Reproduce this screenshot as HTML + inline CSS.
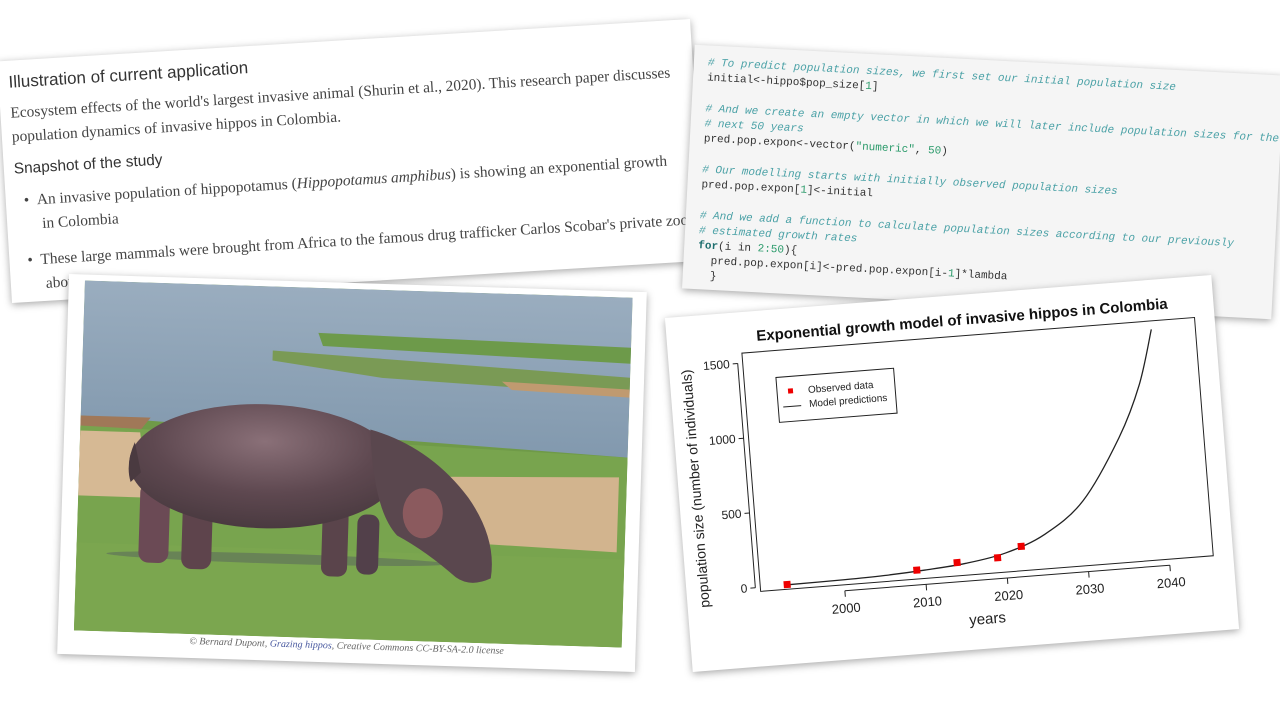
<!DOCTYPE html>
<html><head><meta charset="utf-8">
<style>
html,body{margin:0;padding:0;width:1280px;height:720px;overflow:hidden;background:#fff;}
.card{position:absolute;background:#fff;box-shadow:0 2px 8px rgba(0,0,0,0.35);}
#p1{left:4px;width:694px;top:40px;height:242px;transform:rotate(-3.5deg);font-family:"Liberation Serif",serif;color:#444;}
#p1 h3{position:absolute;left:10px;top:12px;margin:0;font:17px "Liberation Sans",sans-serif;color:#333;}
#p1 .t{position:absolute;left:10px;font-size:15.4px;white-space:nowrap;}
#p2{left:688px;width:590px;top:60px;height:244px;transform:rotate(3deg);background:#f5f5f5;font-family:"Liberation Mono",monospace;font-size:11px;color:#333;}
#p2 .l{position:absolute;left:14px;white-space:pre;}
.c{color:#4aa1a6;font-style:italic;}
.n{color:#2a9a6a;}
.k{color:#1f6f6f;font-weight:bold;}
#p3{left:63px;width:578px;top:283px;height:380px;transform:rotate(1.8deg);}
#p4{left:678px;width:548px;top:296px;height:355px;transform:rotate(-4.5deg);}
</style></head><body>

<div class="card" id="p1">
  <h3>Illustration of current application</h3>
  <div class="t" style="top:44px">Ecosystem effects of the world's largest invasive animal (Shurin et al., 2020). This research paper discusses</div>
  <div class="t" style="top:68px">population dynamics of invasive hippos in Colombia.</div>
  <div class="t" style="top:100px;font-family:'Liberation Sans',sans-serif;color:#333">Snapshot of the study</div>
  <div class="t" style="top:132px;left:18px">•&nbsp;&nbsp;An invasive population of hippopotamus (<i>Hippopotamus amphibus</i>) is showing an exponential growth</div>
  <div class="t" style="top:156px;left:35px">in Colombia</div>
  <div class="t" style="top:192px;left:18px">•&nbsp;&nbsp;These large mammals were brought from Africa to the famous drug trafficker Carlos Scobar's private zoo</div>
  <div class="t" style="top:216px;left:35px">about</div>
</div>

<div class="card" id="p2">
  <div class="l c" style="top:12px"># To predict population sizes, we first set our initial population size</div>
  <div class="l" style="top:27px">initial&lt;-hippo$pop_size[<span class="n">1</span>]</div>
  <div class="l c" style="top:58px"># And we create an empty vector in which we will later include population sizes for the</div>
  <div class="l c" style="top:73px"># next 50 years</div>
  <div class="l" style="top:88px">pred.pop.expon&lt;-vector(<span class="n">"numeric"</span>, <span class="n">50</span>)</div>
  <div class="l c" style="top:119px"># Our modelling starts with initially observed population sizes</div>
  <div class="l" style="top:134px">pred.pop.expon[<span class="n">1</span>]&lt;-initial</div>
  <div class="l c" style="top:165px"># And we add a function to calculate population sizes according to our previously</div>
  <div class="l c" style="top:180px"># estimated growth rates</div>
  <div class="l" style="top:195px"><span class="k">for</span>(i in <span class="n">2:50</span>){</div>
  <div class="l" style="top:210px">  pred.pop.expon[i]&lt;-pred.pop.expon[i-<span class="n">1</span>]*lambda</div>
  <div class="l" style="top:225px">  }</div>
</div>

<div class="card" id="p3">
  <svg width="548" height="350" style="position:absolute;left:16px;top:6px">
    <defs>
      <linearGradient id="wat" x1="0" y1="0" x2="0" y2="1"><stop offset="0" stop-color="#9aadbf"/><stop offset="1" stop-color="#8299ae"/></linearGradient>
      <radialGradient id="bod" cx="0.5" cy="0.3" r="0.7"><stop offset="0" stop-color="#8a7078"/><stop offset="0.6" stop-color="#5e4850"/><stop offset="1" stop-color="#4a3a40"/></radialGradient>
    </defs>
    <rect width="548" height="350" fill="#6f9a48"/>
    <polygon points="0,0 548,0 548,160 0,135" fill="url(#wat)"/>
    <polygon points="235,45 548,50 548,66 240,58" fill="#6d9a4a"/>
    <polygon points="190,64 548,80 548,98 300,88 190,74" fill="#7a9a55"/>
    <polygon points="420,88 548,92 548,100 430,96" fill="#c09a70"/>
    <polygon points="0,135 70,135 60,148 0,148" fill="#a07858"/>
    <polygon points="0,145 548,160 548,350 0,350" fill="#78a44e"/>
    <polygon points="0,150 60,150 70,215 0,215" fill="#d6b994"/>
    <polygon points="360,185 540,180 540,255 380,250" fill="#d2b48e"/>
    <rect y="262" width="548" height="88" fill="#7ba64f"/>
    <ellipse cx="200" cy="272" rx="170" ry="5" fill="#5b6d5c" opacity="0.6"/>
    <rect x="62" y="200" width="30" height="80" rx="10" fill="#6b4a55"/>
    <rect x="105" y="210" width="30" height="75" rx="10" fill="#5e444c"/>
    <rect x="245" y="220" width="26" height="68" rx="9" fill="#5a444b"/>
    <rect x="280" y="225" width="22" height="60" rx="9" fill="#52404a"/>
    <ellipse cx="185" cy="180" rx="135" ry="62" fill="url(#bod)"/>
    <path d="M290,140 Q350,155 390,205 Q420,245 415,285 Q395,295 380,285 Q350,260 320,245 Q295,220 290,140Z" fill="#5a474e"/>
    <ellipse cx="345" cy="222" rx="20" ry="25" fill="#8b5a5e"/>
    <path d="M55,160 Q46,182 52,200 L62,190Z" fill="#4a3a40"/>
  </svg>
  <div style="position:absolute;left:0;width:578px;text-align:center;top:358px;font:italic 10px 'Liberation Serif',serif;color:#666;white-space:nowrap">© Bernard Dupont, <span style="color:#4a5aa0">Grazing hippos</span>, Creative Commons CC-BY-SA-2.0 license</div>
</div>

<div class="card" id="p4">
  <svg id="chart" width="548" height="355" style="position:absolute;left:0;top:0"></svg>
</div>

<script>
const modelYears = [1993, 2000, 2005, 2010, 2015, 2020, 2025, 2030, 2035, 2038, 2040];
const modelValues = [3, 7, 14, 29, 52, 100, 204, 407, 807, 1150, 1510];
const obsYears = [1993, 2009, 2014, 2019, 2022];
const obsValues = [5, 33, 62, 73, 136];
const xTicks = [2000, 2010, 2020, 2030, 2040];
const yTicks = [0, 500, 1000, 1500];

const NS = 'http://www.w3.org/2000/svg';
const svg = document.getElementById('chart');
const box = {l: 74, r: 528, t: 41, b: 280};
function x(yr){ return 158 + (yr - 2000) * 8.15; }
function y(v){ return 276 - v * 0.15; }
function mk(tag, attrs, parent){
  const e = document.createElementNS(NS, tag);
  for (const k in attrs) e.setAttribute(k, attrs[k]);
  (parent || svg).appendChild(e);
  return e;
}
const font = '"Liberation Sans", Arial, sans-serif';

let t = mk('text', {x: 296, y: 30, 'text-anchor': 'middle', 'font-family': font, 'font-size': 15, 'font-weight': 'bold', fill: '#111'});
t.textContent = 'Exponential growth model of invasive hippos in Colombia';



let r = mk('rect', {x: box.l, y: box.t, width: box.r - box.l, height: box.b - box.t, fill: 'none', stroke: '#222', 'stroke-width': 1});



let xa = mk('line', {x1: x(xTicks[0]), x2: x(xTicks[xTicks.length-1]), y1: box.b + 6, y2: box.b + 6, stroke: '#222'});


xTicks.forEach(v => {
  mk('line', {x1: x(v), x2: x(v), y1: box.b + 6, y2: box.b + 12, stroke: '#222'});
  const l = mk('text', {x: x(v), y: box.b + 28, 'text-anchor': 'middle', 'font-family': font, 'font-size': 13, fill: '#222'});
  l.textContent = v;
  
  
});
let ya = mk('line', {x1: box.l - 5, x2: box.l - 5, y1: y(yTicks[0]), y2: y(yTicks[yTicks.length-1]), stroke: '#222'});


yTicks.forEach(v => {
  mk('line', {x1: box.l - 10, x2: box.l - 5, y1: y(v), y2: y(v), stroke: '#222'});
  const l = mk('text', {x: box.l - 13, y: y(v) + 4, 'text-anchor': 'end', 'font-family': font, 'font-size': 12, fill: '#222'});
  l.textContent = v;
  
  
});
let xt = mk('text', {x: 298, y: 330, 'text-anchor': 'middle', 'font-family': font, 'font-size': 15, fill: '#222'});
xt.textContent = 'years';


let yt = mk('text', {x: 0, y: 0, 'text-anchor': 'middle', 'font-family': font, 'font-size': 14, fill: '#222', transform: 'translate(22,' + ((box.t + box.b) / 2 + 12) + ') rotate(-90)'});
yt.textContent = 'population size (number of individuals)';



let d = '';
const pts = modelYears.map((yr, i) => [x(yr), y(modelValues[i])]);
pts.forEach((p, i) => {
  if (i === 0) { d += 'M' + p[0] + ',' + p[1]; return; }
  const p0 = pts[Math.max(0, i - 2)], p1 = pts[i - 1], p2 = p, p3 = pts[Math.min(pts.length - 1, i + 1)];
  const c1x = p1[0] + (p2[0] - p0[0]) / 6, c1y = p1[1] + (p2[1] - p0[1]) / 6;
  const c2x = p2[0] - (p3[0] - p1[0]) / 6, c2y = p2[1] - (p3[1] - p1[1]) / 6;
  d += ' C' + c1x + ',' + c1y + ' ' + c2x + ',' + c2y + ' ' + p2[0] + ',' + p2[1];
});
let ml = mk('path', {d: d, fill: 'none', stroke: '#222', 'stroke-width': 1.3});



obsYears.forEach((yr, i) => {
  const s = mk('rect', {x: x(yr) - 3.5, y: y(obsValues[i]) - 3.5, width: 7, height: 7, fill: '#ee0000'});
  
  
});

const lg = mk('g', {});


mk('rect', {x: 106, y: 68, width: 118, height: 45, fill: '#fff', stroke: '#222'}, lg);
mk('rect', {x: 117, y: 80, width: 5, height: 5, fill: '#ee0000'}, lg);
mk('line', {x1: 111, x2: 129, y1: 98, y2: 98, stroke: '#222'}, lg);
let e1 = mk('text', {x: 137, y: 86, 'font-family': font, 'font-size': 10, fill: '#222'}, lg);
e1.textContent = 'Observed data';


let e2 = mk('text', {x: 137, y: 100, 'font-family': font, 'font-size': 10, fill: '#222'}, lg);
e2.textContent = 'Model predictions';


</script>
</body></html>
